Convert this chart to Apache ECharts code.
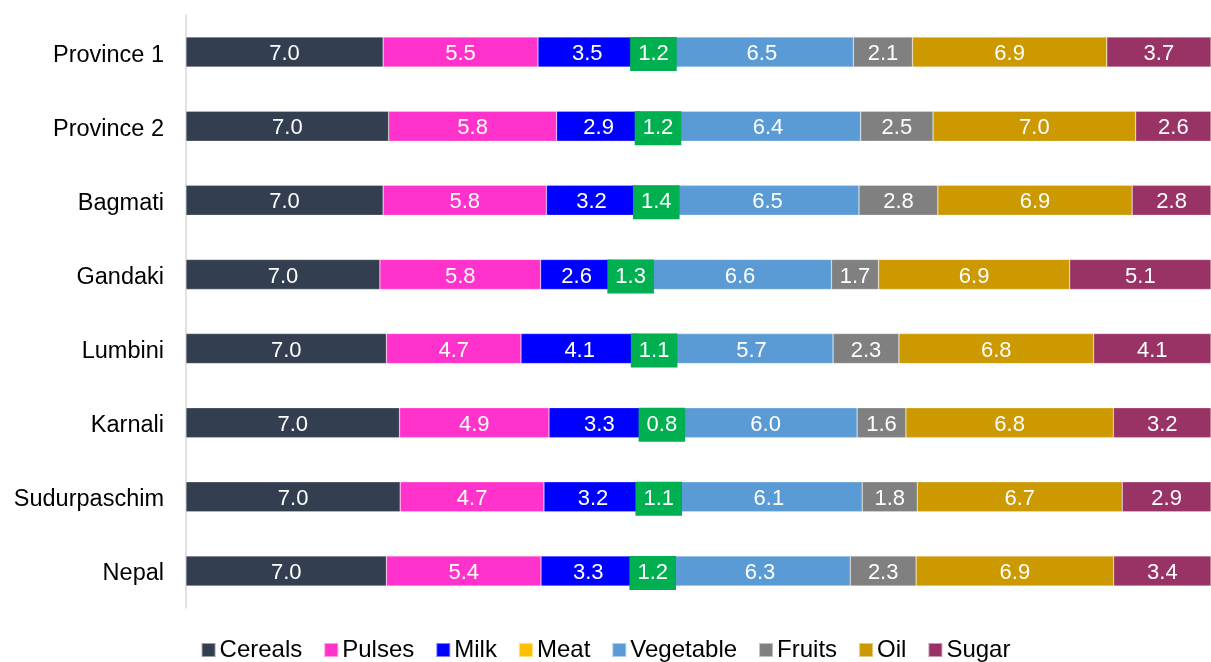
<!DOCTYPE html>
<html>

<head>
    <meta http-equiv="Content-Type" content="text/html; charset=utf-8" />
    <title>food groups</title>
    <style type="text/css">
    body,
    html {
        width: 100%;
        height: 100%;
        margin: 0;
        overflow: hidden;
        background-color: #fff;
    }

    #container {
        width: 1211px;
        height: 662px;
    }
    </style>
</head>

<body>
    <div id="container"></div>
</body>
<script src="https://cdn.jsdelivr.net/npm/echarts@6.0.0/dist/echarts.min.js"></script>
<script>
var regions = ['Province 1', 'Province 2', 'Bagmati', 'Gandaki', 'Lumbini', 'Karnali', 'Sudurpaschim', 'Nepal'];
var groups = ['Cereals', 'Pulses', 'Milk', 'Meat', 'Vegetable', 'Fruits', 'Oil', 'Sugar'];

var cereals = [7.0, 7.0, 7.0, 7.0, 7.0, 7.0, 7.0, 7.0];
var pulses = [5.5, 5.8, 5.8, 5.8, 4.7, 4.9, 4.7, 5.4];
var milk = [3.5, 2.9, 3.2, 2.6, 4.1, 3.3, 3.2, 3.3];
var meat = [1.2, 1.2, 1.4, 1.3, 1.1, 0.8, 1.1, 1.2];
var vegetable = [6.5, 6.4, 6.5, 6.6, 5.7, 6.0, 6.1, 6.3];
var fruits = [2.1, 2.5, 2.8, 1.7, 2.3, 1.6, 1.8, 2.3];
var oil = [6.9, 7.0, 6.9, 6.9, 6.8, 6.8, 6.7, 6.9];
var sugar = [3.7, 2.6, 2.8, 5.1, 4.1, 3.2, 2.9, 3.4];

var values = [cereals, pulses, milk, meat, vegetable, fruits, oil, sugar];
var colors = ['#333F50', '#FF33CC', '#0000FF', '#FFC000', '#5B9BD5', '#808080', '#CC9900', '#993366'];

// row totals, bars are shown as share of the row (100% stacked)
var totals = regions.map(function(r, i) {
    return values.reduce(function(s, arr) { return s + arr[i]; }, 0);
});

var font = "'Liberation Sans', Arial";

var series = groups.map(function(name, k) {
    var label = {
        show: true,
        position: 'inside',
        color: '#fff',
        fontSize: 22,
        fontFamily: font,
        offset: [0, 2],
        formatter: function(p) { return values[k][p.dataIndex].toFixed(1); }
    };
    if (name === 'Meat') {
        // meat labels sit in a green box that hides the thin yellow bar
        label.backgroundColor = '#00B050';
        label.padding = [6, 8, 6, 8];
        label.offset = [0, 2];
    }
    return {
        name: name,
        type: 'bar',
        stack: 'all',
        barWidth: 30,
        itemStyle: { color: colors[k], borderColor: 'rgba(255,255,255,0.5)', borderWidth: 0.5 },
        label: label,
        z: name === 'Meat' ? 3 : 2,
        data: values[k].map(function(v, i) { return v / totals[i]; })
    };
});

var myChart = echarts.init(document.getElementById('container'));

var option = {
    animation: false,
    grid: { left: 186, right: 0, top: 15, bottom: 54 },
    xAxis: {
        type: 'value',
        min: 0,
        max: 1,
        show: false
    },
    yAxis: {
        type: 'category',
        inverse: true,
        data: regions,
        axisLine: { lineStyle: { color: '#D9D9D9', width: 1.5 } },
        axisTick: { show: false },
        axisLabel: {
            color: '#000',
            margin: 22,
            formatter: function(v) { return '{a|' + v + '}'; },
            rich: { a: { fontSize: 23.5, fontFamily: font, color: '#000', padding: [6, 0, 0, 0] } }
        }
    },
    legend: {
        bottom: -5,
        left: 'center',
        itemWidth: 14,
        itemHeight: 14,
        itemGap: 21,
        icon: 'rect',
        textStyle: { color: '#000', fontSize: 24, fontFamily: font, padding: [0, 0, 0, -1] },
        data: groups.map(function(g, k) { return { name: g, itemStyle: { color: colors[k] } }; })
    },
    series: series
};

myChart.setOption(option);
</script>

</html>
